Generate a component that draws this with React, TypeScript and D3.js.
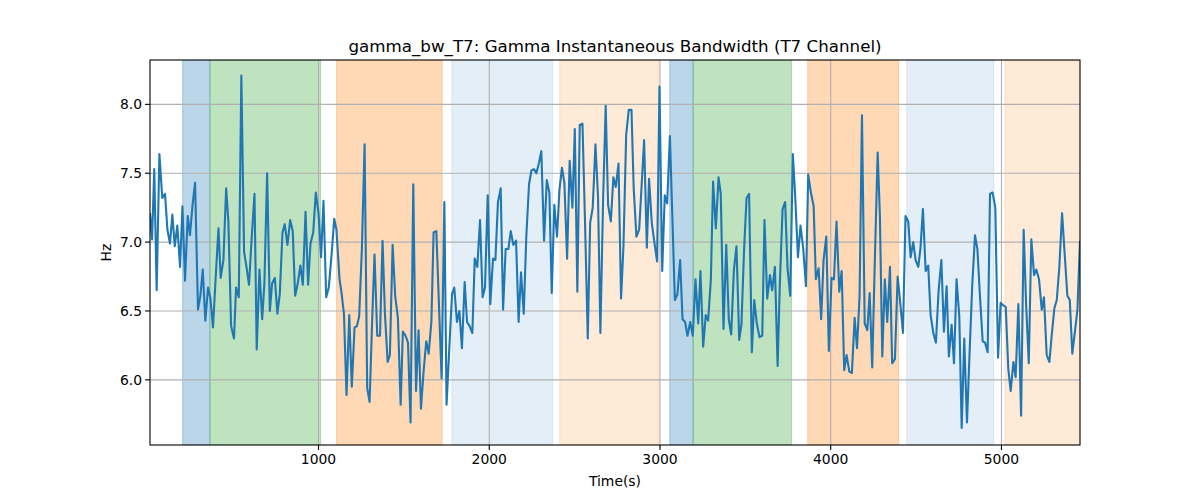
import React from 'react';
import * as d3 from 'd3';

// [time (s), bandwidth (Hz)]
const samples: [number, number][] = [
  [13, 7.21], [25, 7.02], [38, 7.53], [52, 6.65], [68, 7.64], [85, 7.32], [101, 7.35], [115, 7.09], [130, 6.99], [144, 7.2],
  [158, 6.97], [173, 7.12], [189, 6.82], [203, 7.26], [218, 6.72], [234, 7.19], [247, 7.05], [263, 7.28], [277, 7.43], [294, 6.51],
  [308, 6.61], [322, 6.8], [337, 6.43], [353, 6.67], [367, 6.59], [382, 6.38], [398, 6.75], [414, 7.1], [427, 6.74], [443, 6.87],
  [459, 7.39], [472, 7.15], [488, 6.39], [505, 6.3], [517, 6.67], [533, 6.6], [548, 8.21], [564, 6.93], [578, 6.82], [593, 6.69],
  [609, 7.04], [625, 7.35], [638, 6.22], [654, 6.8], [670, 6.44], [683, 6.7], [699, 7.5], [715, 6.5], [728, 6.7], [744, 6.74],
  [759, 6.48], [773, 6.62], [789, 7.07], [802, 7.13], [818, 6.98], [834, 7.16], [849, 7.08], [863, 6.61], [877, 6.69], [894, 6.83],
  [908, 6.69], [924, 7.22], [939, 6.69], [953, 6.99], [969, 7.07], [984, 7.36], [1000, 7.21], [1015, 6.89], [1029, 7.3], [1045, 6.6],
  [1060, 6.67], [1076, 6.9], [1092, 7.17], [1105, 7.09], [1123, 6.73],
  [1133, 6.65], [1149, 6.48], [1164, 5.89], [1180, 6.47], [1195, 5.95], [1211, 6.38], [1225, 6.39], [1238, 6.46], [1254, 6.95], [1270, 7.71],
  [1285, 5.94], [1299, 5.84], [1315, 6.46], [1328, 6.91], [1344, 6.32], [1360, 6.32], [1375, 7.01], [1389, 6.48], [1405, 6.13], [1418, 6.18],
  [1434, 6.98], [1449, 6.61], [1465, 6.45], [1481, 5.82], [1494, 6.35], [1510, 6.32], [1524, 6.27], [1539, 5.69], [1555, 7.42], [1571, 5.92],
  [1586, 6.36], [1600, 5.79], [1616, 6.07], [1631, 6.28], [1645, 6.19], [1661, 6.42], [1674, 7.07], [1690, 7.08], [1705, 6.56], [1721, 6.01],
  [1737, 7.29], [1750, 5.82], [1766, 6.23], [1782, 6.62], [1795, 6.67], [1811, 6.42], [1825, 6.5], [1840, 6.23], [1856, 6.71], [1870, 6.42],
  [1885, 6.39], [1901, 6.34], [1915, 6.88], [1930, 6.82], [1946, 7.16], [1961, 6.6], [1975, 6.67], [1991, 7.34], [2006, 6.55], [2022, 6.88],
  [2036, 6.87], [2051, 7.29], [2067, 7.39], [2081, 6.51], [2096, 6.95], [2112, 6.95], [2126, 7.08], [2141, 6.98], [2157, 7.01], [2172, 6.42],
  [2186, 6.78], [2202, 6.48], [2217, 7.04], [2233, 7.42], [2247, 7.52], [2262, 7.53], [2276, 7.5], [2292, 7.58], [2305, 7.66], [2321, 7.01],
  [2337, 7.45], [2352, 7.36], [2366, 6.63], [2381, 7.27], [2397, 7.04], [2411, 7.38], [2426, 7.54], [2440, 7.43], [2456, 6.88], [2471, 7.59],
  [2487, 7.25], [2501, 7.82], [2516, 6.64], [2530, 7.85], [2546, 7.86], [2561, 7.14], [2577, 6.3], [2591, 7.14], [2606, 7.25], [2622, 7.71],
  [2637, 7.33], [2651, 6.34], [2667, 7.32], [2682, 7.99], [2696, 7.27], [2712, 7.15], [2727, 7.47], [2741, 7.4], [2757, 7.57], [2772, 6.59],
  [2786, 6.97], [2802, 7.78], [2817, 7.96], [2833, 7.96], [2846, 7.39], [2862, 7.04], [2878, 7.09], [2891, 7.38], [2907, 7.74], [2923, 6.96],
  [2936, 7.46], [2952, 7.14], [2968, 6.99], [2983, 6.86], [2997, 8.13], [3013, 6.79], [3028, 7.34], [3042, 7.28], [3058, 7.77], [3073, 7.16],
  [3087, 6.58], [3102, 6.62], [3118, 6.87], [3132, 6.44], [3147, 6.42], [3161, 6.32], [3177, 6.42], [3192, 6.32], [3208, 6.73], [3224, 6.41],
  [3237, 6.79], [3253, 6.24], [3268, 6.47], [3282, 6.43], [3298, 6.73], [3311, 7.44], [3327, 7.1], [3343, 7.47], [3356, 7.35], [3372, 6.37],
  [3388, 6.98], [3403, 6.44], [3417, 6.33], [3433, 6.8], [3448, 6.97], [3464, 6.29], [3477, 6.4], [3493, 6.96], [3507, 7.32], [3522, 7.35],
  [3538, 6.2], [3552, 6.58], [3567, 6.41], [3583, 6.31], [3599, 6.32], [3612, 7.16], [3628, 6.59], [3644, 6.76], [3657, 6.65], [3673, 6.82],
  [3689, 6.1], [3702, 6.7], [3718, 7.24], [3733, 7.29], [3747, 6.81], [3763, 6.61], [3778, 7.64], [3792, 7.33], [3808, 6.89], [3823, 7.12],
  [3839, 6.95], [3855, 6.68], [3868, 7.49], [3884, 7.36], [3900, 7.26], [3913, 6.73], [3929, 6.81], [3944, 6.44], [3958, 6.87], [3974, 7.04],
  [3989, 6.21], [4005, 6.74], [4019, 6.73], [4034, 7.15], [4050, 6.64], [4064, 6.79], [4079, 6.07], [4093, 6.18], [4109, 6.06], [4124, 6.05],
  [4140, 6.45], [4154, 6.23], [4169, 6.61], [4183, 7.92], [4199, 6.41], [4214, 6.36], [4228, 6.63], [4243, 6.09], [4259, 6.9], [4275, 7.65],
  [4288, 7.19], [4302, 6.17], [4317, 6.73], [4331, 6.42], [4347, 6.82], [4360, 6.12], [4376, 6.15], [4392, 6.75], [4407, 6.56], [4423, 6.34],
  [4438, 7.19], [4454, 7.15], [4468, 6.89], [4483, 7.0], [4497, 6.87], [4513, 6.82], [4526, 6.96], [4540, 7.24], [4556, 6.79], [4571, 6.83],
  [4585, 6.47], [4601, 6.34], [4616, 6.27], [4632, 6.65], [4648, 6.87], [4663, 6.35], [4679, 6.68], [4692, 6.17], [4708, 6.4], [4722, 6.12],
  [4737, 6.73], [4753, 6.46], [4767, 5.65], [4782, 6.3], [4798, 5.69], [4814, 6.22], [4829, 6.69], [4845, 7.05], [4859, 6.95], [4874, 6.61],
  [4890, 6.28], [4904, 6.27], [4919, 6.2], [4933, 7.35], [4948, 7.36], [4964, 7.25], [4980, 6.16], [4995, 6.56], [5011, 6.54], [5025, 6.53],
  [5040, 6.08], [5054, 5.92], [5070, 6.13], [5083, 6.02], [5099, 6.55], [5115, 5.74], [5130, 7.09], [5144, 6.56], [5160, 6.12], [5175, 7.02],
  [5191, 6.76], [5204, 6.8], [5220, 6.73], [5236, 6.51], [5249, 6.6], [5265, 6.18], [5281, 6.13], [5294, 6.32], [5310, 6.52], [5324, 6.58],
  [5339, 6.82], [5355, 7.21], [5371, 6.9], [5386, 6.61], [5400, 6.58], [5415, 6.19], [5431, 6.36], [5445, 6.51], [5460, 7.01],
];

// shaded intervals: [start, end, colour, opacity]
const spans: [number, number, string, number][] = [
  [204, 364, '#1f77b4', 0.3],
  [364, 1012, '#2ca02c', 0.3],
  [1106, 1724, '#ff7f0e', 0.3],
  [1781, 2371, '#1f77b4', 0.12],
  [2413, 2993, '#ff7f0e', 0.16],
  [3057, 3194, '#1f77b4', 0.3],
  [3194, 3770, '#2ca02c', 0.3],
  [3865, 4398, '#ff7f0e', 0.3],
  [4445, 4955, '#1f77b4', 0.12],
  [5020, 5470, '#ff7f0e', 0.16],
];

const xTicks = [1000, 2000, 3000, 4000, 5000];
const yTicks = [6.0, 6.5, 7.0, 7.5, 8.0];

const W = 1200;
const H = 500;
const left = 150, right = 1080, top = 60, bottom = 445;
const font = 'DejaVu Sans, sans-serif';

export default function App() {
  const x = d3.scaleLinear().domain([13, 5460]).range([left, right]);
  const y = d3.scaleLinear().domain([5.527, 8.322]).range([bottom, top]);

  const line = d3.line<[number, number]>()
    .x(d => x(d[0]))
    .y(d => y(d[1]));

  return (
    <div style={{ position: 'absolute', left: 0, top: 0 }}>
      <svg width={W} height={H} style={{ display: 'block', background: '#fff' }}>
        <defs>
          <clipPath id="plot">
            <rect x={left} y={top} width={right - left} height={bottom - top} />
          </clipPath>
        </defs>

        <g clipPath="url(#plot)">
          {spans.map(([s, e, c, o], i) => (
            <rect key={i} x={x(s)} y={top} width={x(e) - x(s)} height={bottom - top}
              fill={c} fillOpacity={o} stroke={c} strokeOpacity={o} strokeWidth={1} />
          ))}
        </g>

        {/* grid */}
        {xTicks.map(t => (
          <line key={'gx' + t} x1={x(t)} x2={x(t)} y1={top} y2={bottom} stroke="#b0b0b0" strokeWidth={1.1} />
        ))}
        {yTicks.map(t => (
          <line key={'gy' + t} x1={left} x2={right} y1={y(t)} y2={y(t)} stroke="#b0b0b0" strokeWidth={1.1} />
        ))}

        <path d={line(samples) || ''} fill="none" stroke="#1f77b4" strokeWidth={2.1}
          strokeLinejoin="round" clipPath="url(#plot)" />

        {/* axes frame */}
        <rect x={left} y={top} width={right - left} height={bottom - top} fill="none" stroke="#000" strokeWidth={1.1} />

        {xTicks.map(t => (
          <g key={'tx' + t}>
            <line x1={x(t)} x2={x(t)} y1={bottom} y2={bottom + 5} stroke="#000" strokeWidth={1.1} />
            <text x={x(t)} y={bottom + 19} textAnchor="middle" fontFamily={font} fontSize={13.9}>{t}</text>
          </g>
        ))}
        {yTicks.map(t => (
          <g key={'ty' + t}>
            <line x1={left - 5} x2={left} y1={y(t)} y2={y(t)} stroke="#000" strokeWidth={1.1} />
            <text x={left - 8} y={y(t) + 5} textAnchor="end" fontFamily={font} fontSize={13.9}>{t.toFixed(1)}</text>
          </g>
        ))}

        <text x={(left + right) / 2} y={52} textAnchor="middle" fontFamily={font} fontSize={16.7}>
          gamma_bw_T7: Gamma Instantaneous Bandwidth (T7 Channel)
        </text>
        <text x={(left + right) / 2} y={486} textAnchor="middle" fontFamily={font} fontSize={13.9}>Time(s)</text>
        <text transform={`translate(111,${(top + bottom) / 2}) rotate(-90)`} textAnchor="middle"
          fontFamily={font} fontSize={13.9}>Hz</text>
      </svg>
    </div>
  );
}
